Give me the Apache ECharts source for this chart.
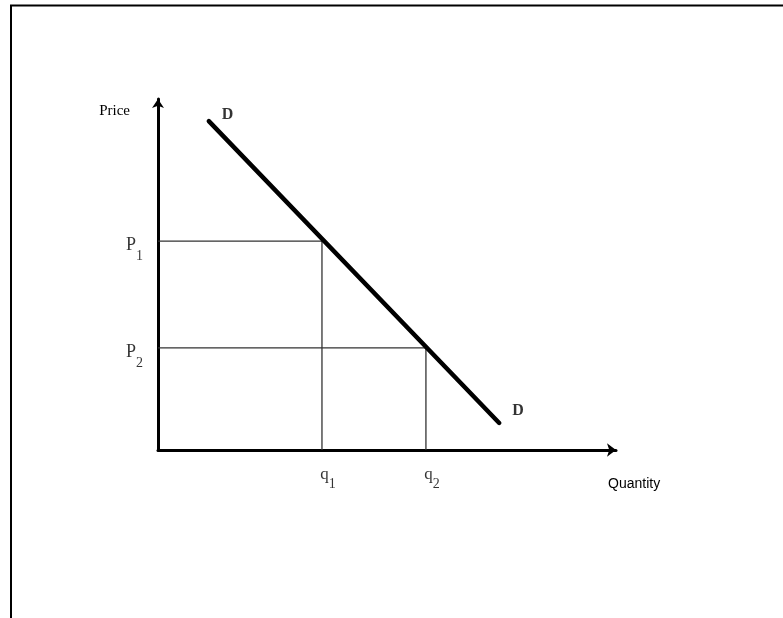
<!DOCTYPE html>
<html>
<head>
<meta charset="utf-8">
<script src="https://cdn.jsdelivr.net/npm/echarts@6/dist/echarts.min.js"></script>
<style>
html,body{margin:0;padding:0;background:#fff;}
#chart{width:783px;height:618px;}
</style>
</head>
<body>
<div id="chart"></div>
<script>
// Data
const quantityLevels = [35.8, 58.5];      // q1, q2
const quantityNames = ['q', 'q'];
const quantitySubs = ['1', '2'];
const priceLevels = [59.5, 29.1];         // P1, P2
const priceNames = ['P', 'P'];
const priceSubs = ['1', '2'];
const demandX = [11.1, 74.5];
const demandY = [93.7, 7.7];
const demandLabels = ['D', 'D'];
const axisNames = { x: 'Quantity', y: 'Price' };

const chart = echarts.init(document.getElementById('chart'));
const serif = "'Liberation Serif', 'DejaVu Serif', serif";

const demandPoints = demandX.map((x, i) => [x, demandY[i]]);
const demandLabelData = demandPoints.map((p, i) => ({
  value: p,
  label: { offset: i === 0 ? [8, -6] : [8, -12] }
}));

const level1 = [[0, priceLevels[0]], [quantityLevels[0], priceLevels[0]], [quantityLevels[0], 0]];
const level2 = [[0, priceLevels[1]], [quantityLevels[1], priceLevels[1]], [quantityLevels[1], 0]];

const priceLabelData = priceLevels.map((p, i) => ({
  value: [0, p],
  label: { formatter: '{m|' + priceNames[i] + '}{s|' + priceSubs[i] + '}' }
}));
const qtyLabelData = quantityLevels.map((q, i) => ({
  value: [q, 0],
  label: { formatter: '{m|' + quantityNames[i] + '}{s|' + quantitySubs[i] + '}' }
}));

chart.setOption({
  animation: false,
  backgroundColor: '#fff',
  grid: { left: 158, top: 99, right: 167, bottom: 168 },
  xAxis: {
    type: 'value', min: 0, max: 100,
    name: axisNames.x, nameLocation: 'end', nameGap: -8,
    nameTextStyle: {
      fontFamily: "'Liberation Sans', Arial, sans-serif",
      fontSize: 14, color: '#000', align: 'left', verticalAlign: 'top',
      padding: [27, 0, 0, 0]
    },
    axisLine: { show: true, symbol: ['none', 'arrow'], symbolSize: [10, 9],
      lineStyle: { color: '#000', width: 3 } },
    axisTick: { show: false },
    splitLine: { show: false },
    axisLabel: { show: false }
  },
  yAxis: {
    type: 'value', min: 0, max: 100,
    name: axisNames.y, nameLocation: 'end', nameGap: -20,
    nameTextStyle: {
      fontFamily: serif, fontSize: 15, color: '#000', align: 'right',
      padding: [0, 28, 0, 0]
    },
    axisLine: { show: true, symbol: ['none', 'arrow'], symbolSize: [9, 9],
      lineStyle: { color: '#000', width: 3 } },
    axisTick: { show: false },
    splitLine: { show: false },
    axisLabel: { show: false }
  },
  series: [
    {
      type: 'line', data: level1, symbol: 'none', silent: true,
      lineStyle: { color: '#333', width: 1.3 }
    },
    {
      type: 'line', data: level2, symbol: 'none', silent: true,
      lineStyle: { color: '#333', width: 1.3 }
    },
    {
      type: 'line', data: demandPoints, symbol: 'none', silent: true,
      lineStyle: { color: '#000', width: 4.5, cap: 'round' }
    },
    {
      type: 'scatter', data: demandLabelData, symbolSize: 0, silent: true,
      label: { show: true, position: 'right', distance: 5, formatter: function (p) { return demandLabels[p.dataIndex]; },
        fontFamily: serif, fontWeight: 'bold', fontSize: 16, color: '#000' }
    },
    {
      type: 'scatter', data: priceLabelData, symbolSize: 0, silent: true,
      label: {
        show: true, position: 'left', distance: 15, offset: [0, 4],
        rich: {
          m: { fontFamily: serif, fontSize: 18, color: '#000', lineHeight: 18, verticalAlign: 'top' },
          s: { fontFamily: serif, fontSize: 14, color: '#000', lineHeight: 14, padding: [13, 0, 0, 0], verticalAlign: 'top' }
        }
      }
    },
    {
      type: 'scatter', data: qtyLabelData, symbolSize: 0, silent: true,
      label: {
        show: true, position: 'bottom', distance: 16, offset: [6, 0],
        rich: {
          m: { fontFamily: serif, fontSize: 17, color: '#000', lineHeight: 18, verticalAlign: 'top' },
          s: { fontFamily: serif, fontSize: 14, color: '#000', lineHeight: 14, padding: [11, 0, 0, 0], verticalAlign: 'top' }
        }
      }
    }
  ],
  graphic: [
    { type: 'line', shape: { x1: 10, y1: 5.5, x2: 783, y2: 5.5 }, style: { stroke: '#000', lineWidth: 2 } },
    { type: 'line', shape: { x1: 11, y1: 5, x2: 11, y2: 618 }, style: { stroke: '#000', lineWidth: 2 } }
  ]
});
</script>
</body>
</html>
